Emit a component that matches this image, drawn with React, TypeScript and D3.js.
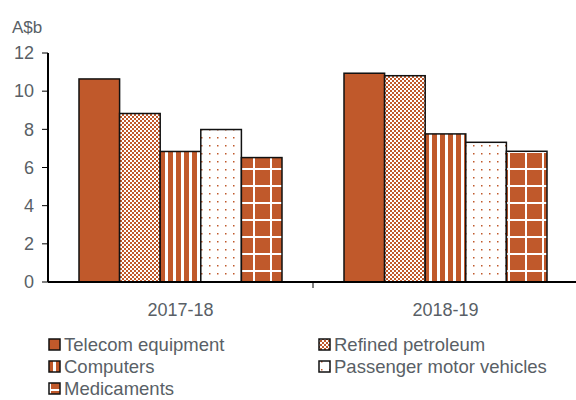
import * as d3 from 'd3';

const years = ['2017-18', '2018-19'];
const products = ['Telecom equipment', 'Refined petroleum', 'Computers', 'Passenger motor vehicles', 'Medicaments'];
const telecom = [10.64, 10.94];
const refined = [8.83, 10.81];
const computers = [6.84, 7.76];
const passenger = [7.99, 7.32];
const medicaments = [6.52, 6.85];
const yTicks = [0, 2, 4, 6, 8, 10, 12];

const series = [telecom, refined, computers, passenger, medicaments];
const fills = ['#c0592b', 'url(#pRefined)', 'url(#pComp)', 'url(#pPass)', 'url(#pMed)'];
const ORANGE = '#c0592b';
const TEXT = '#595f66';
const FONT = 'Liberation Sans, Arial, sans-serif';

export default function App() {
  const width = 576, height = 400;
  const x = d3.scaleBand().domain(years).range([48, 578]).paddingInner(0).paddingOuter(0);
  const x1 = d3.scaleBand().domain(products).range([0, 203]);
  const y = d3.scaleLinear().domain([0, 12]).range([282, 53]);

  const legendPos = [
    [48, 345], [318, 345],
    [48, 367], [318, 367],
    [48, 389],
  ];

  return (
    <svg width={width} height={height} style={{ position: 'absolute', left: 0, top: 0 }}>
      <defs>
        <pattern id="pRefined" width={4} height={4} patternUnits="userSpaceOnUse">
          <rect width={4} height={4} fill="#fff" />
          <rect width={2} height={2} fill={ORANGE} />
          <rect x={2} y={2} width={2} height={2} fill={ORANGE} />
        </pattern>
        <pattern id="pComp" width={8} height={8} patternUnits="userSpaceOnUse">
          <rect width={8} height={8} fill="#fff" />
          <rect width={5} height={8} fill={ORANGE} />
        </pattern>
        <pattern id="pPass" width={8} height={8} patternUnits="userSpaceOnUse">
          <rect width={8} height={8} fill="#fff" />
          <rect x={1} y={1} width={1.5} height={1.5} fill={ORANGE} />
        </pattern>
        <pattern id="pMed" width={17} height={17} patternUnits="userSpaceOnUse">
          <rect width={17} height={17} fill={ORANGE} />
          <rect x={15} width={2} height={17} fill="#fff" />
          <rect y={15} width={17} height={2} fill="#fff" />
        </pattern>
      </defs>

      <text x={12} y={33} fontFamily={FONT} fontSize={17} fill={TEXT}>A$b</text>
      {yTicks.map(t => (
        <g key={t}>
          <line x1={42} x2={48} y1={y(t)} y2={y(t)} stroke="#000" strokeWidth={1} />
          <text x={34} y={y(t)} dy="0.35em" textAnchor="end" fontFamily={FONT} fontSize={18} fill={TEXT}>{t}</text>
        </g>
      ))}

      {years.map((yr, i) => {
        const gx = x(yr)! + (x.bandwidth() - 203) / 2;
        return (
          <g key={yr}>
            {products.map((p, j) => (
              <rect key={p} x={gx + x1(p)!} y={y(series[j][i])} width={x1.bandwidth()}
                height={y(0) - y(series[j][i])} fill={fills[j]} stroke="#111" strokeWidth={1.5} />
            ))}
            <text x={x(yr)! + x.bandwidth() / 2} y={310} dy="0.35em" textAnchor="middle"
              fontFamily={FONT} fontSize={18} fill={TEXT}>{yr}</text>
          </g>
        );
      })}

      <line x1={48} x2={48} y1={y(12)} y2={y(0)} stroke="#000" strokeWidth={2} />
      <line x1={48} x2={578} y1={y(0)} y2={y(0)} stroke="#000" strokeWidth={2} />
      <line x1={313} x2={313} y1={y(0)} y2={y(0) + 6} stroke="#000" strokeWidth={1} />

      {products.map((p, j) => (
        <g key={p}>
          <rect x={legendPos[j][0] + 1} y={legendPos[j][1] - 6} width={11} height={11}
            fill={fills[j]} stroke="#111" strokeWidth={1.5} />
          <text x={legendPos[j][0] + 16} y={legendPos[j][1]} dy="0.35em" fontFamily={FONT}
            fontSize={18.5} fill={TEXT}>{p}</text>
        </g>
      ))}
    </svg>
  );
}
